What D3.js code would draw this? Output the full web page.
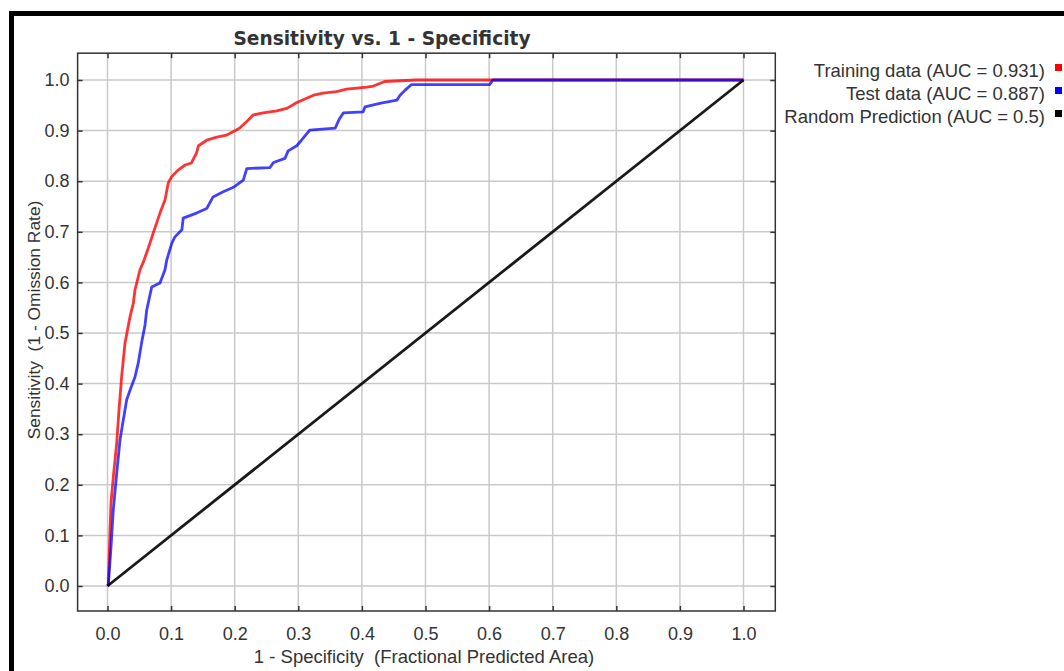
<!DOCTYPE html>
<html>
<head>
<meta charset="utf-8">
<script src="https://cdn.jsdelivr.net/npm/d3@7"></script>
<style>
  html, body { margin: 0; padding: 0; background: #fff; }
  svg { display: block; }
  text { font-family: "Liberation Sans", Arial, sans-serif; fill: #333; }
</style>
</head>
<body>
<svg id="chart" width="1064" height="671"></svg>
<script>
// ---------- data ----------
const tickValues = [0, 0.1, 0.2, 0.3, 0.4, 0.5, 0.6, 0.7, 0.8, 0.9, 1.0];
const tickLabels = ["0.0","0.1","0.2","0.3","0.4","0.5","0.6","0.7","0.8","0.9","1.0"];

const trainingFpr = [0, 0.0013, 0.0039, 0.0055, 0.0091, 0.0145, 0.0181, 0.0223, 0.0275, 0.0354, 0.0406, 0.0432, 0.0511, 0.0563, 0.0642, 0.072, 0.0825, 0.0904, 0.0956, 0.101, 0.111, 0.122, 0.132, 0.140, 0.143, 0.156, 0.172, 0.187, 0.198, 0.208, 0.219, 0.229, 0.245, 0.266, 0.282, 0.297, 0.313, 0.324, 0.339, 0.360, 0.376, 0.392, 0.408, 0.418, 0.436, 0.486, 1.0];
const trainingTpr = [0, 0.002, 0.111, 0.164, 0.215, 0.283, 0.348, 0.415, 0.480, 0.532, 0.559, 0.585, 0.625, 0.640, 0.668, 0.698, 0.737, 0.763, 0.797, 0.809, 0.822, 0.832, 0.836, 0.856, 0.870, 0.881, 0.887, 0.891, 0.898, 0.905, 0.918, 0.931, 0.935, 0.939, 0.944, 0.955, 0.964, 0.970, 0.974, 0.977, 0.982, 0.984, 0.986, 0.988, 0.997, 1.0, 1.0];

const testFpr = [0, 0.0013, 0.0055, 0.0091, 0.0145, 0.0197, 0.0248, 0.0302, 0.0354, 0.0432, 0.0484, 0.0538, 0.059, 0.0616, 0.0695, 0.0825, 0.0904, 0.0931, 0.101, 0.106, 0.117, 0.119, 0.140, 0.156, 0.166, 0.182, 0.198, 0.2135, 0.219, 0.2555, 0.261, 0.279, 0.284, 0.2975, 0.305, 0.318, 0.358, 0.365, 0.371, 0.402, 0.405, 0.428, 0.455, 0.460, 0.468, 0.478, 0.601, 0.606, 1.0];
const testTpr = [0, 0.002, 0.077, 0.150, 0.223, 0.289, 0.328, 0.368, 0.387, 0.413, 0.441, 0.482, 0.516, 0.545, 0.591, 0.599, 0.625, 0.644, 0.677, 0.690, 0.704, 0.727, 0.737, 0.746, 0.769, 0.779, 0.788, 0.802, 0.825, 0.827, 0.837, 0.845, 0.860, 0.870, 0.881, 0.901, 0.905, 0.924, 0.935, 0.937, 0.947, 0.954, 0.960, 0.970, 0.980, 0.991, 0.991, 1.0, 1.0];

const randomFpr = [0, 1];
const randomTpr = [0, 1];

const legendLabels = ["Training data (AUC = 0.931)", "Test data (AUC = 0.887)", "Random Prediction (AUC = 0.5)"];

// ---------- styles ----------
const seriesColors = ["#ff0000", "#0000ff", "#000000"];

// ---------- drawing ----------
const svg = d3.select("#chart");

const x = d3.scaleLinear().domain([0, 1]).range([107.5, 743.5]);
const y = d3.scaleLinear().domain([0, 1]).range([586, 80]);

const fx0 = x(-0.047), fx1 = x(1.05);
const fy0 = y(1.053), fy1 = y(-0.0494);

// outer border
svg.append("rect").attr("x", 9).attr("y", 11).attr("width", 1064 - 9).attr("height", 5).attr("fill", "#000");
svg.append("rect").attr("x", 9).attr("y", 11).attr("width", 5).attr("height", 671 - 11).attr("fill", "#000");

// gridlines
const grid = svg.append("g").attr("stroke", "#c9c9c9").attr("stroke-width", 1.5);
grid.selectAll("line.v").data(tickValues).join("line").attr("class", "v")
  .attr("x1", d => x(d)).attr("x2", d => x(d)).attr("y1", fy0).attr("y2", fy1);
grid.selectAll("line.h").data(tickValues).join("line").attr("class", "h")
  .attr("y1", d => y(d)).attr("y2", d => y(d)).attr("x1", fx0).attr("x2", fx1);

// series
const series = [
  { fpr: trainingFpr, tpr: trainingTpr, color: seriesColors[0], op: 0.8 },
  { fpr: testFpr, tpr: testTpr, color: seriesColors[1], op: 0.75 },
  { fpr: randomFpr, tpr: randomTpr, color: seriesColors[2], op: 0.9 }
];
const line = d3.line().x(d => x(d[0])).y(d => y(d[1]));
svg.append("clipPath").attr("id", "clip").append("rect")
  .attr("x", fx0).attr("y", fy0).attr("width", fx1 - fx0).attr("height", fy1 - fy0);
svg.append("g").attr("clip-path", "url(#clip)")
  .selectAll("path").data(series).join("path")
  .attr("d", s => line(d3.zip(s.fpr, s.tpr)))
  .attr("fill", "none")
  .attr("stroke", s => s.color)
  .attr("stroke-opacity", s => s.op)
  .attr("stroke-width", 2.8)
  .attr("stroke-linejoin", "round");

// axes with inward ticks on all sides
const tickLen = 5;
const axisStyle = g => {
  g.select(".domain").remove();
  g.selectAll(".tick line").attr("stroke", "#333").attr("stroke-width", 1.5);
};
const fmt = (d, i) => tickLabels[i];
const labelStyle = g => g.selectAll("text").attr("font-size", 18).attr("fill", "#3a3a3a")
  .attr("font-family", "'Liberation Sans', Arial, sans-serif");
svg.append("g").attr("transform", `translate(0,${fy1})`)
  .call(d3.axisBottom(x).tickValues(tickValues).tickFormat(fmt).tickSizeInner(-tickLen).tickSizeOuter(0).tickPadding(16))
  .call(axisStyle).call(labelStyle);
svg.append("g").attr("transform", `translate(0,${fy0})`)
  .call(d3.axisTop(x).tickValues(tickValues).tickFormat("").tickSizeInner(-tickLen).tickSizeOuter(0))
  .call(axisStyle);
svg.append("g").attr("transform", `translate(${fx0},0)`)
  .call(d3.axisLeft(y).tickValues(tickValues).tickFormat(fmt).tickSizeInner(-tickLen).tickSizeOuter(0).tickPadding(8))
  .call(axisStyle).call(labelStyle);
svg.append("g").attr("transform", `translate(${fx1},0)`)
  .call(d3.axisRight(y).tickValues(tickValues).tickFormat("").tickSizeInner(-tickLen).tickSizeOuter(0))
  .call(axisStyle);

// frame
svg.append("rect").attr("x", fx0).attr("y", fy0).attr("width", fx1 - fx0).attr("height", fy1 - fy0)
  .attr("fill", "none").attr("stroke", "#333").attr("stroke-width", 1.5);

// title
svg.append("text").attr("x", 382).attr("y", 45).attr("text-anchor", "middle")
  .style("font-family", "'DejaVu Sans', sans-serif").attr("font-weight", "bold").attr("font-size", 18.6)
  .attr("fill", "#111").text("Sensitivity vs. 1 - Specificity");

// axis titles
svg.append("text").attr("x", 424).attr("y", 663).attr("text-anchor", "middle")
  .attr("font-size", 18.5).attr("fill", "#333").style("white-space", "pre").attr("xml:space", "preserve")
  .text("1 - Specificity  (Fractional Predicted Area)");
svg.append("text").attr("transform", `translate(40,320) rotate(-90)`)
  .attr("text-anchor", "middle").attr("font-size", 17.4).attr("fill", "#333")
  .style("white-space", "pre").attr("xml:space", "preserve")
  .text("Sensitivity  (1 - Omission Rate)");

// legend
const rows = svg.append("g").selectAll("g").data(legendLabels).join("g")
  .attr("transform", (d, i) => `translate(0,${i * 23})`);
rows.append("text").attr("x", 1045).attr("y", 76.5).attr("text-anchor", "end")
  .attr("font-size", 18.5).attr("fill", "#222").text(d => d);
rows.append("rect").attr("x", 1055).attr("y", 64).attr("width", 7).attr("height", 7)
  .attr("fill", (d, i) => seriesColors[i]);
</script>
</body>
</html>
